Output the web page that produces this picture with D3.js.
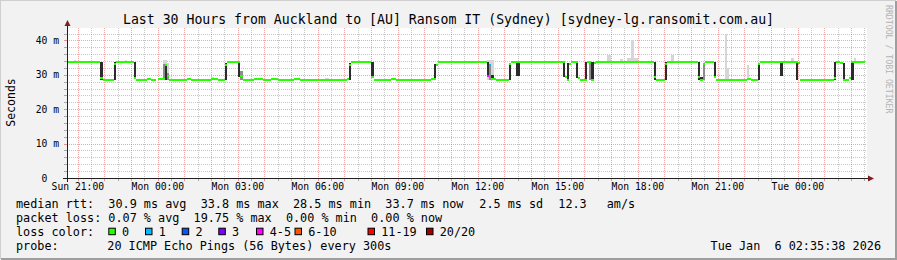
<!DOCTYPE html>
<html>
<head>
<meta charset="utf-8">
<script src="https://cdn.jsdelivr.net/npm/d3@7"></script>
<style>
  body { margin: 0; background: #f2f2f2; }
  svg { display: block; }
  text { font-family: "DejaVu Sans Mono", monospace; fill: #000; }
</style>
</head>
<body>
<svg id="chart" width="897" height="260"></svg>
<script>
// ---- chart data ----
const title = "Last 30 Hours from Auckland to [AU] Ransom IT (Sydney) [sydney-lg.ransomit.com.au]";
const graphEnd = new Date(2026, 0, 6, 2, 35, 38);
const graphHours = 30;
const stepMinutes = 5;            // one sample every 300s

const yTickValues = [0, 10, 20, 30, 40];
const yTickLabels = ["0  ", "10 m", "20 m", "30 m", "40 m"];

// median rtt runs: [first sample, last sample (exclusive), ms, loss class]
const medianRuns = [
  [0, 15, 33.8, 0], [15, 16, 29.2, 0], [16, 21, 28.5, 0], [21, 22, 33.1, 0],
  [22, 30, 33.8, 0], [30, 31, 29.0, 0], [31, 36, 28.5, 0], [36, 38, 28.8, 0],
  [38, 40, 28.5, 0], [41, 44, 28.7, 0], [44, 45, 32.8, 0], [45, 46, 29.6, 0],
  [46, 54, 28.5, 0], [54, 56, 28.8, 0], [56, 65, 28.5, 0], [65, 68, 28.8, 0],
  [68, 71, 28.5, 0], [71, 72, 32.8, 0], [72, 78, 33.8, 0], [78, 79, 29.7, 0],
  [79, 84, 28.5, 0], [84, 88, 28.8, 0], [88, 92, 28.5, 0], [92, 95, 28.8, 0],
  [95, 102, 28.5, 0], [102, 105, 28.8, 0], [105, 126, 28.5, 0], [126, 127, 28.8, 0],
  [127, 128, 32.9, 0], [128, 137, 33.8, 0], [137, 138, 29.5, 0], [138, 146, 28.5, 0],
  [146, 148, 28.8, 0], [148, 164, 28.5, 0], [164, 166, 28.8, 0], [166, 167, 32.9, 0],
  [167, 189, 33.8, 0], [189, 190, 29.6, 4], [190, 191, 32.9, 1], [191, 193, 28.9, 0],
  [193, 199, 28.5, 0], [199, 200, 33.0, 0], [200, 224, 33.8, 0], [224, 225, 29.3, 0],
  [225, 226, 28.5, 0], [226, 227, 33.2, 0], [227, 230, 33.8, 0], [230, 231, 29.0, 0],
  [231, 234, 28.5, 0], [234, 236, 33.7, 0], [236, 237, 28.5, 0], [237, 238, 33.3, 0],
  [238, 264, 33.8, 0], [264, 265, 29.3, 0], [265, 269, 28.5, 0], [269, 270, 33.0, 0],
  [270, 284, 33.8, 0], [284, 285, 29.3, 0], [285, 286, 28.5, 0], [286, 287, 33.0, 0],
  [287, 291, 33.8, 0], [291, 292, 29.3, 0], [292, 306, 28.5, 0], [306, 308, 28.9, 0],
  [308, 311, 28.5, 0], [311, 312, 33.0, 0], [312, 329, 33.8, 0], [329, 330, 33.3, 0],
  [330, 345, 28.5, 0], [345, 346, 29.0, 0], [346, 348, 33.8, 0], [348, 349, 33.3, 0],
  [349, 352, 28.5, 0], [352, 353, 29.0, 0], [353, 354, 33.6, 0], [354, 359, 33.8, 0]
];

// smoke columns: [sample, low ms, high ms, shade 0 light / 1 mid / 2 dark]
const smoke = [
  [3, 33.8, 34.3, 0], [26, 33.8, 34.3, 0],
  [15, 28.6, 33.8, 2], [21, 28.5, 33.6, 2], [30, 28.8, 33.8, 2],
  [43, 28.5, 34.3, 0], [44, 28.5, 34.3, 0], [45, 28.5, 33.5, 0],
  [43, 28.5, 33.0, 1], [44, 28.5, 33.0, 2], [45, 28.5, 30.5, 1],
  [65, 28.5, 29.3, 0], [71, 28.5, 33.5, 2], [77, 29.5, 33.8, 2], [78, 28.5, 31.0, 1],
  [116, 28.5, 29.2, 0], [117, 28.5, 29.2, 0], [127, 28.5, 33.5, 2], [131, 33.8, 34.3, 0],
  [137, 29.3, 33.8, 2], [165, 28.5, 33.2, 2],
  [189, 28.5, 34.3, 0], [190, 28.5, 34.3, 0], [191, 28.5, 34.3, 0],
  [189, 29.3, 33.8, 2], [190, 28.5, 33.0, 1], [191, 28.5, 30.0, 2],
  [199, 28.5, 33.5, 2], [202, 29.7, 33.8, 2], [203, 29.7, 33.8, 2],
  [223, 29.3, 33.8, 2], [225, 28.5, 33.3, 2], [229, 29.0, 33.8, 2],
  [233, 28.5, 33.8, 2], [235, 28.5, 33.8, 1], [236, 28.5, 33.8, 2],
  [243, 33.8, 35.8, 0], [244, 33.8, 35.8, 0], [249, 33.8, 34.5, 0],
  [252, 33.8, 34.8, 0], [253, 33.8, 34.8, 0], [254, 33.8, 40.0, 0],
  [255, 33.8, 34.8, 0], [256, 33.8, 34.8, 0],
  [264, 28.5, 33.8, 2], [269, 28.5, 33.8, 2], [272, 33.8, 35.8, 0],
  [284, 28.5, 33.8, 2], [285, 28.5, 29.5, 2], [286, 28.5, 33.3, 1], [291, 29.3, 33.8, 2],
  [296, 28.5, 42.0, 0], [297, 28.5, 32.0, 0], [306, 28.5, 32.8, 0],
  [311, 28.5, 33.5, 2], [321, 29.7, 33.8, 2], [326, 33.8, 35.0, 0],
  [328, 28.5, 33.8, 2], [345, 28.5, 33.8, 2], [349, 28.5, 33.3, 2],
  [353, 28.5, 33.8, 2], [354, 33.8, 34.8, 0]
];

const lossLabels = ["0", "1", "2", "3", "4-5", "6-10", "11-19", "20/20"];
const lossColors = ["#26ff00", "#00b8ff", "#0059ff", "#7e00ff", "#ff00ff", "#ff5500", "#ff0000", "#a00000"];

const statsLines = [
  ["median rtt:  30.9 ms avg  33.8 ms max  28.5 ms min  33.7 ms now", "2.5 ms sd", "12.3", "am/s"],
  ["packet loss: 0.07 % avg  19.75 % max  0.00 % min  0.00 % now"]
];
const probeText = "20 ICMP Echo Pings (56 Bytes) every 300s";
const stampText = "Tue Jan  6 02:35:38 2026";

// ---- layout ----
const plot = { left: 67, top: 28, width: 800, height: 150 };
const yMax = 43.6;
const shadeColors = ["#d6d6d6", "#8c8c8c", "#2c2c2c"];
const legendBoxX = [108.3, 145, 181.7, 218.3, 256, 294.5, 367.5, 426];
const statsX = [[16, 479.3, 558.3, 606.7], [16]];

const svg = d3.select("#chart");
const graphStart = new Date(graphEnd.getTime() - graphHours * 3600e3);

const x = d3.scaleTime()
  .domain([graphStart, graphEnd])
  .range([plot.left, plot.left + plot.width]);
const y = d3.scaleLinear()
  .domain([0, yMax])
  .range([plot.top + plot.height, plot.top]);
const sampleTime = i => new Date(graphStart.getTime() + i * stepMinutes * 60e3);

// background + 3D frame
svg.append("rect").attr("width", 897).attr("height", 260).attr("fill", "#f2f2f2");
svg.append("path").attr("d", "M0,259V0H896").attr("stroke", "#cfcfcf").attr("stroke-width", 2).attr("fill", "none");
svg.append("path").attr("d", "M1,259H896V1").attr("stroke", "#9e9e9e").attr("stroke-width", 2).attr("fill", "none");

// canvas
svg.append("rect")
  .attr("x", plot.left).attr("y", plot.top)
  .attr("width", plot.width).attr("height", plot.height)
  .attr("fill", "#fff");

// grid
const grid = svg.append("g").attr("shape-rendering", "crispEdges").attr("stroke-dasharray", "1,1");
const minorTimes = d3.timeMinute.every(30).range(graphStart, graphEnd).filter(d => d.getMinutes() !== 0);
const majorTimes = d3.timeHour.every(1).range(graphStart, graphEnd);
const minorMs = d3.range(2, yMax, 2).filter(v => v % 10 !== 0);
const majorMs = yTickValues.filter(v => v > 0);

grid.selectAll(".vminor").data(minorTimes).join("line")
  .attr("x1", d => Math.round(x(d)) + 0.5).attr("x2", d => Math.round(x(d)) + 0.5)
  .attr("y1", plot.top).attr("y2", plot.top + plot.height)
  .attr("stroke", "rgba(143,143,143,0.5)");
grid.selectAll(".hminor").data(minorMs).join("line")
  .attr("x1", plot.left).attr("x2", plot.left + plot.width)
  .attr("y1", d => Math.round(y(d)) + 0.5).attr("y2", d => Math.round(y(d)) + 0.5)
  .attr("stroke", "rgba(143,143,143,0.5)");
grid.selectAll(".vmajor").data(majorTimes).join("line")
  .attr("x1", d => Math.round(x(d)) + 0.5).attr("x2", d => Math.round(x(d)) + 0.5)
  .attr("y1", plot.top).attr("y2", plot.top + plot.height)
  .attr("stroke", "rgba(222,79,79,0.5)");
grid.selectAll(".hmajor").data(majorMs).join("line")
  .attr("x1", plot.left).attr("x2", plot.left + plot.width)
  .attr("y1", d => Math.round(y(d)) + 0.5).attr("y2", d => Math.round(y(d)) + 0.5)
  .attr("stroke", "rgba(222,79,79,0.5)");

// small ticks outside the axes
const ticks = svg.append("g").attr("shape-rendering", "crispEdges");
ticks.selectAll(".yt").data(minorMs.concat(majorMs)).join("line")
  .attr("x1", plot.left - 3).attr("x2", plot.left)
  .attr("y1", d => Math.round(y(d)) + 0.5).attr("y2", d => Math.round(y(d)) + 0.5)
  .attr("stroke", d => d % 10 === 0 ? "rgba(222,79,79,0.6)" : "rgba(143,143,143,0.75)");
ticks.selectAll(".xt").data(minorTimes.concat(majorTimes)).join("line")
  .attr("x1", d => Math.round(x(d)) + 0.5).attr("x2", d => Math.round(x(d)) + 0.5)
  .attr("y1", plot.top + plot.height).attr("y2", plot.top + plot.height + 3)
  .attr("stroke", d => d.getMinutes() === 0 ? "rgba(222,79,79,0.6)" : "rgba(143,143,143,0.75)");

// smoke
svg.append("g").attr("shape-rendering", "crispEdges")
  .selectAll("rect").data(smoke).join("rect")
  .attr("x", d => x(sampleTime(d[0])))
  .attr("width", d => x(sampleTime(d[0] + 1)) - x(sampleTime(d[0])))
  .attr("y", d => y(d[2]))
  .attr("height", d => y(d[1]) - y(d[2]))
  .attr("fill", d => shadeColors[d[3]]);

// median
svg.append("g").attr("shape-rendering", "crispEdges")
  .selectAll("rect").data(medianRuns).join("rect")
  .attr("x", d => x(sampleTime(d[0])))
  .attr("width", d => x(sampleTime(d[1])) - x(sampleTime(d[0])))
  .attr("y", d => y(d[2]) - 1)
  .attr("height", 2)
  .attr("fill", d => lossColors[d[3]]);

// axes
const axisCol = "#1f1f1f", arrowCol = "#801f1f";
const y0 = plot.top + plot.height;
svg.append("line").attr("x1", plot.left - 4).attr("x2", plot.left + plot.width + 2)
  .attr("y1", y0 + 0.5).attr("y2", y0 + 0.5).attr("stroke", axisCol);
svg.append("line").attr("x1", plot.left + 0.5).attr("x2", plot.left + 0.5)
  .attr("y1", y0 + 4).attr("y2", plot.top - 4).attr("stroke", axisCol);
const xe = plot.left + plot.width;
svg.append("path").attr("fill", arrowCol)
  .attr("d", `M${xe + 1},${y0 - 2.5}L${xe + 7},${y0 + 0.5}L${xe + 1},${y0 + 3.5}Z`);
svg.append("path").attr("fill", arrowCol)
  .attr("d", `M${plot.left - 2.5},${plot.top - 2}L${plot.left + 0.5},${plot.top - 8}L${plot.left + 3.5},${plot.top - 2}Z`);

// axis labels
const fmt = d3.timeFormat("%a %H:%M");
svg.append("g").selectAll("text").data(d3.timeHour.every(3).range(graphStart, graphEnd)).join("text")
  .attr("x", d => x(d)).attr("y", 190)
  .attr("text-anchor", "middle").attr("font-size", "9.7px")
  .text(d => fmt(d));
svg.append("g").selectAll("text").data(yTickValues).join("text")
  .attr("x", 59).attr("y", d => y(d) + 3.5)
  .attr("text-anchor", "end").attr("font-size", "9.7px")
  .attr("xml:space", "preserve").style("white-space", "pre")
  .text((d, i) => yTickLabels[i]);

svg.append("text")
  .attr("transform", "translate(15,102.5) rotate(-90)")
  .attr("text-anchor", "middle").attr("font-size", "11.5px")
  .text("Seconds");

svg.append("text")
  .attr("x", 448.5).attr("y", 23.5)
  .attr("text-anchor", "middle").attr("font-size", "13.2px")
  .text(title);

svg.append("text")
  .attr("transform", "translate(886,5) rotate(90)")
  .attr("font-size", "8.2px").style("fill", "#b4b4b4")
  .text("RRDTOOL / TOBI OETIKER");

// legend
const legendSize = "11.8px";
const rowY = [207.5, 221.7, 235.9, 250.1];
statsLines.forEach((parts, r) => {
  parts.forEach((s, k) => {
    svg.append("text").attr("x", statsX[r][k]).attr("y", rowY[r])
      .attr("font-size", legendSize).attr("xml:space", "preserve").style("white-space", "pre")
      .text(s);
  });
});
svg.append("text").attr("x", 16).attr("y", rowY[2]).attr("font-size", legendSize).text("loss color:");
const lg = svg.append("g").selectAll("g").data(lossLabels).join("g")
  .attr("transform", (d, i) => `translate(${legendBoxX[i]},0)`);
lg.append("rect")
  .attr("x", 0.5).attr("y", 228.2).attr("width", 6.5).attr("height", 6.5)
  .attr("fill", (d, i) => lossColors[i]).attr("stroke", "#000").attr("stroke-width", 1);
lg.append("text").attr("x", 13.7).attr("y", rowY[2]).attr("font-size", legendSize).text(d => d);

svg.append("text").attr("x", 16).attr("y", rowY[3]).attr("font-size", legendSize).text("probe:");
svg.append("text").attr("x", 107.3).attr("y", rowY[3]).attr("font-size", legendSize).text(probeText);
svg.append("text").attr("x", 881).attr("y", rowY[3]).attr("text-anchor", "end")
  .attr("font-size", legendSize).attr("xml:space", "preserve").style("white-space", "pre")
  .text(stampText);
</script>
</body>
</html>
